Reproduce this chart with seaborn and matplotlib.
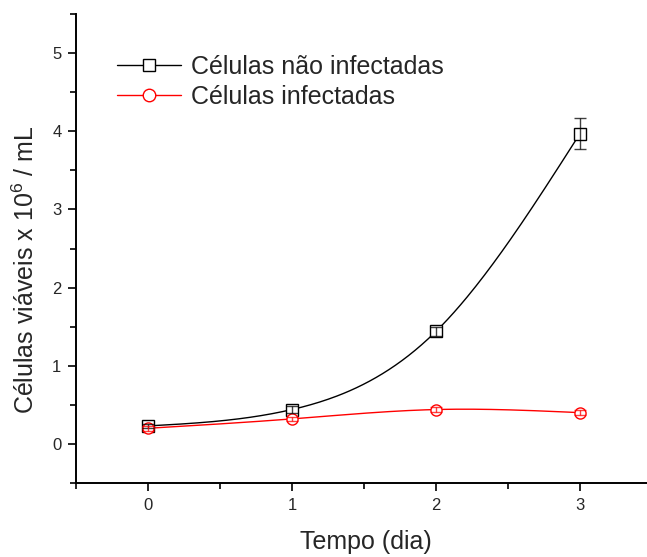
import numpy as np
import pandas as pd
import matplotlib
matplotlib.use("Agg")
import matplotlib.pyplot as plt
import seaborn as sns

# ---- data ----
dias = [0, 1, 2, 3]
nao_infectadas = [0.23, 0.44, 1.44, 3.97]
nao_infectadas_err = [0.03, 0.04, 0.06, 0.20]
infectadas = [0.20, 0.32, 0.44, 0.40]
infectadas_err = [0.03, 0.03, 0.03, 0.03]
x_ticks = [0, 1, 2, 3]
y_ticks = [0, 1, 2, 3, 4, 5]
serie_labels = ["Células não infectadas", "Células infectadas"]

sns.set_style("ticks")
plt.rcParams["font.family"] = ["Liberation Sans", "DejaVu Sans"]
plt.rcParams["mathtext.fontset"] = "custom"
plt.rcParams["mathtext.rm"] = "Liberation Sans"
plt.rcParams["mathtext.it"] = "Liberation Sans"


def natural_spline(x, y, n=200):
    x = np.asarray(x, float)
    y = np.asarray(y, float)
    k = len(x)
    h = np.diff(x)
    A = np.zeros((k, k))
    b = np.zeros(k)
    A[0, 0] = A[-1, -1] = 1
    for i in range(1, k - 1):
        A[i, i - 1] = h[i - 1]
        A[i, i] = 2 * (h[i - 1] + h[i])
        A[i, i + 1] = h[i]
        b[i] = 3 * ((y[i + 1] - y[i]) / h[i] - (y[i] - y[i - 1]) / h[i - 1])
    c = np.linalg.solve(A, b)
    xs = np.linspace(x[0], x[-1], n)
    ys = np.empty_like(xs)
    for j, xv in enumerate(xs):
        i = min(np.searchsorted(x, xv, side="right") - 1, k - 2)
        dx = xv - x[i]
        bi = (y[i + 1] - y[i]) / h[i] - h[i] * (2 * c[i] + c[i + 1]) / 3
        di = (c[i + 1] - c[i]) / (3 * h[i])
        ys[j] = y[i] + bi * dx + c[i] * dx ** 2 + di * dx ** 3
    return xs, ys


fig = plt.figure(figsize=(6.47, 5.57), dpi=100)
ax = fig.add_axes([76 / 647, 74 / 557, (652 - 76) / 647, (483 - 14) / 557])

series = [
    (nao_infectadas, nao_infectadas_err, "black", "s", 8, serie_labels[0]),
    (infectadas, infectadas_err, "red", "o", 9, serie_labels[1]),
]
for vals, errs, col, mk, lms, lab in series:
    xs, ys = natural_spline(dias, vals)
    sns.lineplot(x=xs, y=ys, ax=ax, color=col, lw=1.0, zorder=2, legend=False)
    ax.plot(dias, vals, ls="none", marker=mk, ms=8, mfc="white", mec=col,
            mew=1.0, zorder=4)
    ax.errorbar(dias, vals, yerr=errs, fmt="none", ecolor=col, elinewidth=1.0,
                capsize=4, capthick=1.0, zorder=5, alpha=0.75)
    ax.plot([], [], color=col, lw=1.0, marker=mk, ms=lms, mfc="white", mec=col,
            mew=1.0, label=lab)

ax.set_xlim(-0.5, 3.5)
ax.set_ylim(-0.5, 5.5)
ax.set_xticks(x_ticks)
ax.set_yticks(y_ticks)
ax.set_xticks(np.arange(-0.5, 3.51, 0.5), minor=True)
ax.set_yticks(np.arange(-0.5, 5.51, 0.5), minor=True)
ax.tick_params(axis="both", which="major", direction="out", length=6, width=1.2,
               labelsize=12, color="black", pad=4.5)
ax.tick_params(axis="both", which="minor", direction="out", length=4, width=1.2,
               color="black")
for s in ["top", "right"]:
    ax.spines[s].set_visible(False)
for s in ["left", "bottom"]:
    ax.spines[s].set_linewidth(1.4)
    ax.spines[s].set_color("black")

ax.set_xlabel("Tempo (dia)", fontsize=18)
ax.set_ylabel("Células viáveis x 10$^6$ / mL", fontsize=18)
ax.xaxis.set_label_coords((366 - 76) / 576, -(530 - 483) / 469)
ax.yaxis.set_label_coords(-(76 - 39) / 576, (483 - 270) / 469)

ax.legend(loc="upper left", bbox_to_anchor=((117 - 76) / 576, (483 - 55) / 469),
          frameon=False, fontsize=18, handlelength=2.55, handletextpad=0.42,
          labelspacing=0.22, borderaxespad=0, borderpad=0)

fig.savefig("out.png", dpi=100)
